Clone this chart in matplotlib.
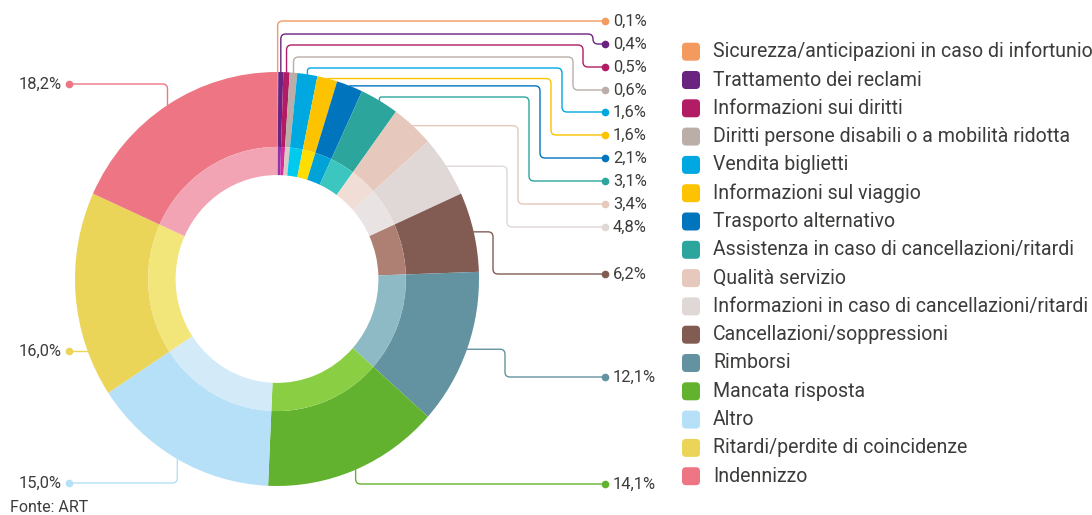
import numpy as np
import matplotlib
matplotlib.use("Agg")
import matplotlib.pyplot as plt
from matplotlib.path import Path
from matplotlib.patches import PathPatch, FancyBboxPatch

# ---------------- data ----------------
categories = [
    "Sicurezza/anticipazioni in caso di infortunio",
    "Trattamento dei reclami",
    "Informazioni sui diritti",
    "Diritti persone disabili o a mobilità ridotta",
    "Vendita biglietti",
    "Informazioni sul viaggio",
    "Trasporto alternativo",
    "Assistenza in caso di cancellazioni/ritardi",
    "Qualità servizio",
    "Informazioni in caso di cancellazioni/ritardi",
    "Cancellazioni/soppressioni",
    "Rimborsi",
    "Mancata risposta",
    "Altro",
    "Ritardi/perdite di coincidenze",
    "Indennizzo",
]
values = [0.1, 0.4, 0.5, 0.6, 1.6, 1.6, 2.1, 3.1, 3.4, 4.8, 6.2, 12.1, 14.1, 15.0, 16.0, 18.2]
value_labels = ["0,1%", "0,4%", "0,5%", "0,6%", "1,6%", "1,6%", "2,1%", "3,1%",
                "3,4%", "4,8%", "6,2%", "12,1%", "14,1%", "15,0%", "16,0%", "18,2%"]
colors_outer = ["#F39A5E", "#6B2382", "#B11C64", "#BBAEA8", "#00A8E1", "#FDC300",
                "#0075BE", "#2CA59D", "#E6C8BC", "#DFD8D6", "#825C53", "#6393A0",
                "#63B22F", "#B5E0F8", "#EAD559", "#EE7684"]
colors_inner = ["#F7B88F", "#8C36AC", "#D52E99", "#D6CCC8", "#00CBEE", "#FFDD00",
                "#00A2D8", "#3BC7C0", "#F0DDD5", "#E9E4E3", "#AE8073", "#8DBAC4",
                "#8ACE43", "#D3EAF8", "#F2E57A", "#F3A4B4"]
source_text = "Fonte: ART"

# ---------------- layout ----------------
W, H = 1092, 515
TXT = "#3c3c3b"
FONT = ["Roboto", "DejaVu Sans"]
plt.rcParams["font.family"] = FONT

fig = plt.figure(figsize=(W / 100, H / 100), dpi=100)
fig.patch.set_facecolor("white")

cx, cy, rx, ry = 277, 279, 202, 207
pie_ax = fig.add_axes([(cx - rx) / W, (H - cy - ry) / H, 2 * rx / W, 2 * ry / H])
pie_ax.pie(values, colors=colors_outer, startangle=90, counterclock=False,
           radius=1.0, wedgeprops=dict(width=0.362, linewidth=0))
pie_ax.pie(values, colors=colors_inner, startangle=90, counterclock=False,
           radius=0.638, wedgeprops=dict(width=0.136, linewidth=0))
pie_ax.set_aspect("auto")
pie_ax.set_xlim(-1, 1)
pie_ax.set_ylim(-1, 1)
pie_ax.axis("off")

ov = fig.add_axes([0, 0, 1, 1])
ov.set_xlim(0, W)
ov.set_ylim(H, 0)
ov.axis("off")
renderer = fig.canvas.get_renderer()


def fit_size(text, target_w, base=12):
    t = ov.text(0, 0, text, fontsize=base)
    w = t.get_window_extent(renderer=renderer).width
    t.remove()
    return base * target_w / w


vals = np.array(values)
frac = vals / vals.sum()
mid = (np.cumsum(frac) - frac / 2) * 2 * np.pi
edge_x = cx + rx * np.sin(mid)
edge_y = cy - ry * np.cos(mid)

dot_right, dot_left = 605, 69
label_y = [21, 44, 67, 90, 112, 135, 158, 181, 204, 227, 274, 377, 484, 483, 351, 84]
levels = [None, 34, 45, 57, 68, 78, 87, 97, 124, 169, None, None, None, None, None, None]
elbows = [None, 593, 583, 573, 562, 551, 540, 529, 518, 507, 493, 505, None, None, None, None]
side = ["r"] * 13 + ["l"] * 3


def rounded(pts, r=5.0):
    pts = [np.array(p, float) for p in pts]
    clean = [pts[0]]
    for p in pts[1:]:
        if np.hypot(*(p - clean[-1])) > 1.5:
            clean.append(p)
    pts = clean
    verts = [pts[0]]
    codes = [Path.MOVETO]
    for i in range(1, len(pts) - 1):
        p0, p1, p2 = pts[i - 1], pts[i], pts[i + 1]
        d1 = p1 - p0
        d2 = p2 - p1
        l1, l2 = np.hypot(*d1), np.hypot(*d2)
        rr = min(r, l1 / 2, l2 / 2)
        a = p1 - d1 / l1 * rr
        b = p1 + d2 / l2 * rr
        verts += [a, p1, b]
        codes += [Path.LINETO, Path.CURVE3, Path.CURVE3]
    verts.append(pts[-1])
    codes.append(Path.LINETO)
    return Path(verts, codes)


lab_fs = fit_size("12,1%", 43)
for i, v in enumerate(values):
    ly = label_y[i]
    c = colors_outer[i]
    ex, ey = edge_x[i], edge_y[i]
    if side[i] == "r":
        dx = dot_right
        if elbows[i] is None:
            pts = [(ex, ey), (ex, ly), (dx, ly)]
        else:
            lev = levels[i] if levels[i] is not None else ey
            if lev > ey - 2:
                lev = ey
            pts = [(ex, ey), (ex, lev), (elbows[i], lev), (elbows[i], ly), (dx, ly)]
        ov.text(dx + 8, ly, value_labels[i], fontsize=lab_fs, color=TXT,
                ha="left", va="center")
    else:
        dx = dot_left
        if i == 14:
            sx = cx - rx * np.sqrt(1 - ((ly - cy) / ry) ** 2)
            pts = [(sx, ly), (dx, ly)]
        else:
            pts = [(ex, ey), (ex, ly), (dx, ly)]
        ov.text(dx - 7, ly, value_labels[i], fontsize=lab_fs, color=TXT,
                ha="right", va="center")
    ov.add_patch(PathPatch(rounded(pts), fill=False, edgecolor=c, lw=1.0,
                           capstyle="round", joinstyle="round"))
    ov.plot(dx, ly, "o", ms=5.5, color=c, mec="none")

# legend
leg_fs = fit_size(categories[0], 377)
for i, (name, c) in enumerate(zip(categories, colors_outer)):
    yc = 51.7 + i * 28.3
    ov.add_patch(FancyBboxPatch((682, yc - 9), 18, 18,
                                boxstyle="round,pad=0,rounding_size=4",
                                facecolor=c, edgecolor="none"))
    ov.text(713, yc, name, fontsize=leg_fs, color=TXT, ha="left", va="center")

src_fs = fit_size(source_text, 78)
ov.text(10, 508, source_text, fontsize=src_fs, color=TXT, ha="left", va="center")

fig.savefig("out.png", dpi=100, facecolor="white")
